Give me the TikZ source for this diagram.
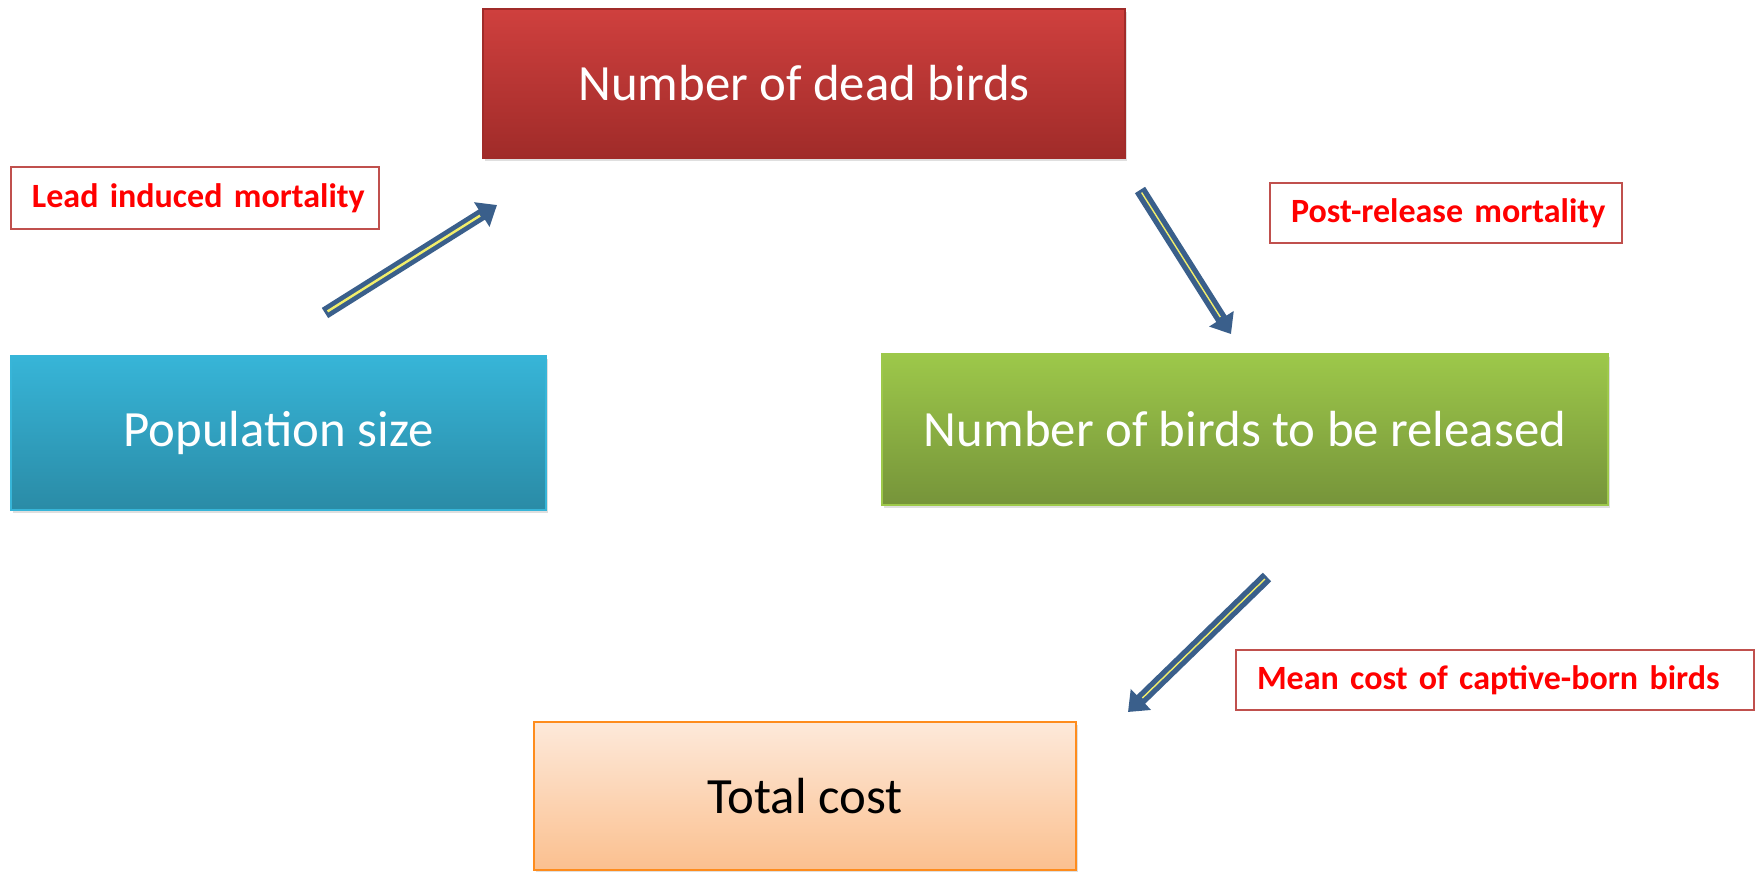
\documentclass[tikz,border=0pt]{standalone}
\usepackage{fontspec}
\setmainfont{Carlito}
\usetikzlibrary{arrows.meta}
\usetikzlibrary{shadows}
\definecolor{deadtop}{HTML}{CF403E}
\definecolor{deadbot}{HTML}{A02B29}
\definecolor{poptop}{HTML}{37B5D8}
\definecolor{popbot}{HTML}{2A8BA6}
\definecolor{reltop}{HTML}{9DC84A}
\definecolor{relbot}{HTML}{76943A}
\definecolor{costtop}{HTML}{FDE9DA}
\definecolor{costbot}{HTML}{FBC08F}
\definecolor{labelred}{HTML}{C0504D}
\definecolor{arrowblue}{HTML}{3A5F8B}
\definecolor{arrowyellow}{HTML}{F2EE6A}
\tikzstyle{stage}=[inner sep=0, outer sep=0, text=white, line width=0.6pt,
                   font=\fontsize{25.4}{30}\selectfont,
                   % soft shadow under the boxes
                   drop shadow={shadow xshift=0.8pt, shadow yshift=-1.5pt, opacity=0.25}]
\tikzstyle{factor}=[draw=labelred, fill=white, line width=1pt, inner xsep=10.5pt, inner ysep=0,
                    align=left, text=red, font=\fontsize{17}{20}\selectfont\bfseries]
\tikzstyle{flow}=[draw=arrowblue, line width=6pt, -{Triangle[length=9pt,width=14pt]}]
\tikzstyle{flowcore}=[draw=arrowyellow, line width=1.2pt, shorten >=10pt, shorten <=1.5pt]

\begin{document}
\begin{tikzpicture}[x=0.5pt, y=-0.5pt]
        \useasboundingbox (0, 0) rectangle (1757, 872);
        \node[stage, draw=deadbot, top color=deadtop, bottom color=deadbot,
              minimum width=321pt, minimum height=74.5pt]  (dead)  at (804, 83.5) {Number of dead birds};
        \node[stage, draw=poptop, top color=poptop, bottom color=popbot,
              minimum width=267.5pt, minimum height=77pt]  (pop)   at (278.5, 433) {Population size};
        \node[stage, draw=reltop, top color=reltop, bottom color=relbot,
              minimum width=363pt, minimum height=75.5pt]  (rel)   at (1245, 429.5) {Number of birds to be released};
        \node[stage, draw=orange!80!costbot, top color=costtop, bottom color=costbot, text=black,
              minimum width=271pt, minimum height=74pt]    (total) at (805, 796) {Total cost};
        \node[factor, text width=163pt, minimum height=31pt] (lead) at (195, 198)  {\mbox{Lead induced mortality}};
        \node[factor, text width=155pt, minimum height=30pt] (post) at (1446, 213) {\mbox{Post-release mortality}};
        \node[factor, text width=238pt, minimum height=30pt] (mean) at (1495, 680) {\mbox{Mean cost of captive-born birds}};
        \coordinate (a1s) at (325, 313);
        \coordinate (a1e) at (497, 205);
        \coordinate (a2s) at (1140, 190);
        \coordinate (a2e) at (1231, 334);
        \coordinate (a3s) at (1267, 577);
        \coordinate (a3e) at (1128, 712);
        \draw[flow] (a1s) -- (a1e);
        \draw[flow] (a2s) -- (a2e);
        \draw[flow] (a3s) -- (a3e);
        \draw[flowcore] (a1s) -- (a1e);
        \draw[flowcore, line width=0.7pt] (a2s) -- (a2e);
        \draw[flowcore, line width=0.7pt] (a3s) -- (a3e);
    \end{tikzpicture}
\end{document}
